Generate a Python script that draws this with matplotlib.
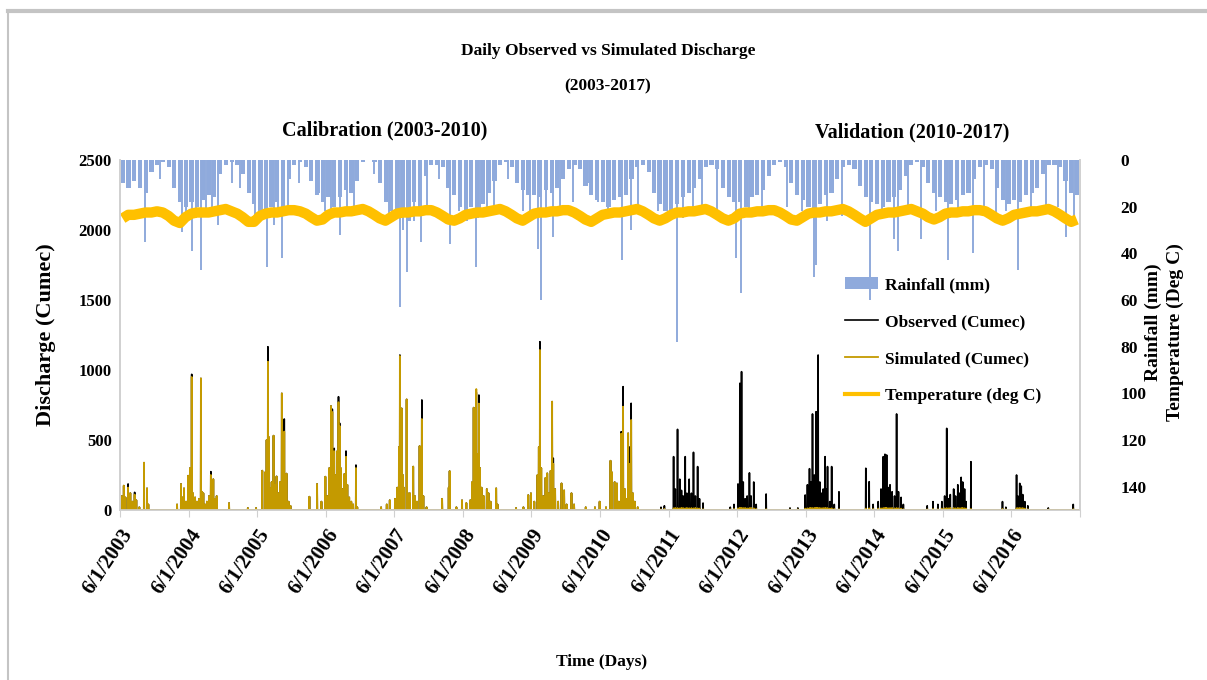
import numpy as np
import pandas as pd
import matplotlib
matplotlib.use('Agg')
import matplotlib.pyplot as plt
from matplotlib.lines import Line2D
from matplotlib.patches import Patch

# daily record, day 0 = 6/1/2003
start = pd.Timestamp('2003-06-01')
days = pd.date_range(start, '2017-05-31', freq='D')

# calibration flows (Cumec): day index, observed, simulated
cal_day = [10, 20, 29, 43, 50, 55, 66, 78, 87, 103, 128, 144, 151,
           304, 325, 333, 341, 352, 363, 373, 382, 389, 400, 410, 421, 431, 437, 444, 453, 463, 474, 484, 490, 497, 506, 515, 581,
           681, 725, 758, 774, 781, 788, 794, 800, 808, 818, 826, 834, 845, 853, 862, 869, 875, 882, 887, 898, 908,
           1009, 1050, 1073, 1094, 1104, 1115, 1124, 1131, 1136, 1141, 1150, 1157, 1164, 1170, 1176, 1184, 1195, 1204, 1211, 1221, 1232, 1242, 1257, 1264,
           1391, 1421, 1437, 1465, 1477, 1486, 1491, 1500, 1507, 1512, 1527, 1534, 1544, 1562, 1571, 1582, 1596, 1608, 1616, 1633,
           1716, 1751, 1756, 1792, 1822, 1845, 1866, 1876, 1884, 1892, 1898, 1905, 1912, 1918, 1926, 1937, 1954, 1963, 1974, 2004, 2011,
           2110, 2149, 2175, 2189, 2207, 2224, 2231, 2237, 2244, 2255, 2267, 2276, 2284, 2294, 2302, 2308, 2318, 2334, 2352, 2366, 2379, 2405, 2419, 2481,
           2530, 2555, 2589, 2613, 2620, 2635, 2647, 2657, 2670, 2680, 2689, 2697, 2707, 2713, 2723, 2732, 2742, 2758]
cal_obs = [100, 174, 90, 186, 110, 121, 60, 126, 70, 20, 338, 155, 40,
           40, 186, 90, 155, 60, 245, 300, 969, 120, 90, 60, 80, 940, 130, 120, 40, 60, 100, 274, 160, 220, 80, 100, 50,
           15, 15, 281, 270, 500, 1166, 520, 155, 200, 531, 180, 240, 120, 200, 833, 300, 650, 150, 260, 60, 30,
           95, 186, 60, 238, 100, 300, 743, 720, 380, 440, 250, 420, 809, 620, 300, 150, 257, 421, 180, 90, 60, 40, 321, 20,
           20, 40, 70, 80, 160, 450, 1107, 726, 250, 160, 790, 120, 120, 310, 100, 60, 457, 786, 100, 20,
           80, 160, 278, 20, 70, 50, 70, 200, 731, 300, 840, 400, 821, 300, 160, 100, 150, 120, 60, 155, 40,
           15, 20, 107, 120, 60, 250, 450, 1202, 300, 100, 230, 262, 120, 280, 774, 370, 150, 60, 190, 140, 40, 120, 40, 20,
           20, 60, 20, 352, 270, 200, 190, 60, 559, 881, 150, 80, 548, 450, 762, 120, 60, 20]
cal_sim = [100, 174, 90, 160, 110, 121, 60, 110, 70, 20, 338, 155, 40,
           40, 186, 90, 155, 60, 245, 300, 950, 120, 90, 60, 80, 940, 130, 120, 40, 60, 100, 250, 160, 220, 80, 100, 50,
           15, 15, 281, 270, 500, 1059, 520, 155, 200, 531, 180, 240, 120, 200, 833, 300, 560, 150, 260, 60, 30,
           95, 186, 60, 238, 100, 300, 743, 700, 380, 420, 250, 420, 770, 600, 300, 150, 257, 380, 180, 90, 60, 40, 300, 20,
           20, 40, 70, 80, 160, 450, 1100, 726, 250, 160, 790, 120, 120, 310, 100, 60, 457, 650, 100, 20,
           80, 160, 278, 20, 70, 50, 70, 200, 731, 300, 864, 400, 760, 300, 160, 100, 150, 120, 60, 155, 40,
           15, 20, 107, 120, 60, 250, 450, 1143, 300, 100, 230, 262, 120, 280, 774, 330, 150, 60, 190, 140, 40, 120, 40, 20,
           20, 60, 20, 352, 270, 200, 190, 60, 545, 738, 150, 80, 548, 330, 643, 120, 60, 20]

# validation flows (Cumec)
val_day = [2882, 2900, 2949, 2958, 2970, 2982, 2991, 3000, 3011, 3020, 3032, 3044, 3055, 3065, 3077, 3087, 3106,
           3251, 3271, 3292, 3302, 3311, 3320, 3330, 3341, 3353, 3362, 3376, 3389, 3442,
           3569, 3611, 3650, 3662, 3673, 3680, 3689, 3699, 3708, 3713, 3719, 3728, 3738, 3746, 3756, 3762, 3769, 3781, 3791, 3805, 3830,
           3973, 3991, 4012, 4039, 4054, 4066, 4075, 4079, 4084, 4093, 4102, 4113, 4126, 4137, 4147, 4161, 4173,
           4300, 4331, 4357, 4378, 4393, 4404, 4414, 4423, 4441, 4451, 4463, 4471, 4481, 4489, 4499, 4507, 4533,
           4701, 4719, 4776, 4783, 4793, 4801, 4809, 4820, 4836, 4945, 5078]
val_obs = [20, 30, 381, 150, 576, 220, 140, 100, 381, 120, 220, 120, 412, 100, 310, 80, 50,
           20, 40, 186, 905, 988, 200, 80, 100, 265, 100, 200, 40, 114,
           15, 15, 107, 180, 295, 200, 686, 250, 702, 500, 1107, 200, 120, 150, 381, 150, 310, 60, 310, 40, 130,
           298, 202, 40, 60, 150, 381, 398, 250, 393, 160, 180, 130, 100, 686, 130, 90, 40,
           30, 60, 40, 60, 100, 583, 80, 110, 150, 100, 180, 120, 233, 200, 150, 60, 345,
           60, 20, 250, 100, 190, 170, 110, 60, 30, 15, 40]
val_sim = [5, 8, 12, 15, 14, 12, 15, 14, 12, 15, 13, 14, 12, 15, 12, 10, 6,
           5, 8, 12, 16, 15, 14, 15, 12, 14, 15, 12, 8, 6,
           4, 5, 10, 12, 14, 15, 14, 15, 16, 15, 14, 15, 12, 14, 15, 12, 14, 10, 12, 8, 6,
           10, 12, 8, 10, 12, 14, 15, 14, 15, 12, 14, 15, 12, 14, 12, 10, 6,
           5, 8, 6, 10, 12, 14, 12, 15, 14, 12, 15, 12, 14, 15, 12, 10, 8,
           8, 5, 12, 14, 15, 12, 14, 10, 6, 4, 6]

# rainfall (mm): monthly depth, Jun..May of each hydrological year 2003-04 .. 2016-17
rain_monthly = [
    [10, 12, 9, 12, 14, 5, 2, 1, 3, 12, 18, 20],
    [18, 20, 17, 15, 16, 6, 2, 1, 2, 6, 14, 19],
    [22, 21, 20, 18, 20, 8, 2, 1, 3, 9, 15, 18],
    [16, 20, 16, 13, 14, 9, 1, 0, 1, 10, 18, 22],
    [25, 24, 26, 18, 20, 7, 2, 2, 3, 12, 15, 20],
    [22, 20, 25, 19, 14, 9, 2, 1, 3, 10, 13, 15],
    [15, 16, 13, 14, 12, 8, 4, 2, 4, 11, 15, 17],
    [18, 20, 17, 16, 15, 8, 3, 2, 5, 14, 19, 22],
    [22, 19, 16, 14, 12, 8, 3, 2, 4, 12, 16, 18],
    [18, 20, 16, 15, 13, 7, 2, 1, 3, 10, 15, 17],
    [20, 22, 19, 15, 14, 8, 3, 2, 4, 11, 16, 18],
    [19, 20, 18, 16, 13, 7, 2, 1, 3, 10, 14, 16],
    [18, 19, 17, 15, 14, 8, 3, 2, 4, 12, 17, 19],
    [17, 18, 15, 14, 12, 6, 2, 2, 3, 9, 14, 15],
]
# heavy single-day falls: day index, mm
storm_day = [131, 214, 329, 352, 382, 405, 431, 458, 490, 522, 596, 638, 718, 755, 785, 820, 840, 864, 893, 956,
             1062, 1094, 1124, 1172, 1210, 1248, 1354, 1433, 1490, 1507, 1530, 1566, 1604, 1634, 1698, 1760, 1804,
             1847, 1898, 1919, 1953, 1990, 2069, 2149, 2186, 2228, 2242, 2270, 2308, 2345, 2414, 2494, 2547, 2599,
             2675, 2722, 2758, 2864, 2928, 2965, 3000, 3050, 3103, 3182, 3284, 3308, 3352, 3421, 3554, 3633, 3696,
             3710, 3765, 3845, 3993, 4057, 4125, 4142, 4200, 4268, 4348, 4410, 4465, 4542, 4602, 4666, 4719, 4785,
             4852, 4931, 4995, 5038, 5080]
storm_mm = [35, 8, 31, 24, 39, 25, 47, 22, 22, 28, 10, 12, 25, 24, 46, 28, 22, 42, 20, 10,
            14, 22, 25, 32, 22, 24, 6, 25, 63, 30, 48, 26, 35, 22, 8, 36, 22,
            26, 46, 22, 24, 20, 8, 22, 26, 38, 60, 24, 33, 22, 18, 10, 18, 22,
            43, 30, 20, 22, 26, 78, 25, 20, 22, 24, 42, 57, 22, 24, 20, 22, 50,
            45, 26, 24, 60, 24, 34, 39, 22, 34, 22, 43, 24, 40, 22, 26, 22, 47,
            24, 22, 20, 33, 24]

# mean temperature (deg C), Jun..May of each hydrological year
temp_monthly = [
    [25.0, 23.5, 23.5, 23.0, 22.5, 22.5, 22.0, 22.5, 24.0, 26.0, 27.0, 24.5],
    [23.0, 22.5, 22.5, 22.5, 22.0, 21.5, 21.0, 22.0, 23.0, 24.5, 26.5, 26.5],
    [24.0, 23.0, 22.5, 22.5, 22.0, 21.5, 21.5, 22.0, 23.0, 24.5, 26.0, 25.5],
    [23.5, 22.5, 22.5, 22.0, 22.0, 21.5, 21.0, 22.0, 23.5, 25.0, 26.0, 24.5],
    [23.0, 22.5, 22.5, 22.0, 22.0, 21.5, 21.5, 22.5, 24.0, 25.5, 26.0, 25.0],
    [23.5, 23.0, 22.5, 22.5, 22.0, 21.5, 21.0, 22.0, 23.5, 25.0, 26.0, 24.5],
    [23.0, 22.5, 22.5, 22.0, 22.0, 21.5, 21.5, 22.5, 24.0, 25.5, 26.5, 25.0],
    [23.5, 23.0, 22.5, 22.5, 22.0, 21.5, 21.0, 22.0, 23.5, 25.0, 26.0, 25.0],
    [23.5, 22.5, 22.5, 22.0, 22.0, 21.5, 21.0, 22.0, 23.5, 25.0, 26.0, 25.0],
    [23.0, 22.5, 22.5, 22.0, 22.0, 21.5, 21.5, 22.5, 24.0, 25.5, 26.0, 24.5],
    [23.0, 22.5, 22.5, 22.0, 22.0, 21.5, 21.0, 22.0, 23.5, 25.0, 26.5, 25.0],
    [23.5, 23.0, 22.5, 22.5, 22.0, 21.5, 21.0, 22.0, 23.0, 24.5, 25.5, 24.5],
    [23.0, 22.5, 22.5, 22.0, 22.0, 21.5, 21.5, 22.0, 23.5, 25.0, 26.0, 25.0],
    [23.5, 23.0, 22.5, 22.0, 22.0, 21.5, 21.0, 22.0, 23.5, 25.0, 26.5, 25.5],
]

tick_years = list(range(2003, 2018))

# build the daily series
observed = np.zeros(len(days))
simulated = np.zeros(len(days))
observed[cal_day] = cal_obs
simulated[cal_day] = cal_sim
observed[val_day] = val_obs
simulated[val_day] = val_sim

months = pd.date_range(start, periods=len(rain_monthly) * 12, freq='MS')
rain = np.array(rain_monthly).ravel()
temp = np.array(temp_monthly).ravel()

serif = 'Liberation Serif'
plt.rcParams['font.family'] = [serif, 'DejaVu Serif']
plt.rcParams['font.weight'] = 'bold'

fig = plt.figure(figsize=(12.07, 6.8), dpi=100)
ax = fig.add_axes([120 / 1207, 1 - 510 / 680, 960 / 1207, 350 / 680])
ax2 = ax.twinx()

rain_c = '#8FAADC'
sim_c = '#C49A00'
temp_c = '#FFC000'

# rainfall hangs from the top of the reversed secondary axis
ax2.bar(months + pd.Timedelta(days=4), rain, width=22, align='edge', color=rain_c, linewidth=0)
ax2.vlines(days[storm_day], 0, storm_mm, color=rain_c, lw=1.4)
ax2.plot(months + pd.Timedelta(days=14), temp, color=temp_c, lw=7.5, solid_capstyle='butt')
ax2.set_ylim(150, 0)
ax2.set_yticks(range(0, 141, 20))

ax.plot(days, observed, color='black', lw=1.2)
ax.plot(days, simulated, color=sim_c, lw=1.3)
ax.set_ylim(0, 2500)
ax.set_yticks(range(0, 2501, 500))
ax.set_xlim(start, pd.Timestamp('2017-06-01'))

ticks = [pd.Timestamp(f'{y}-06-01') for y in tick_years]
ax.set_xticks(ticks)
ax.set_xticklabels([f'6/1/{y}' for y in tick_years[:-1]] + [''],
                   rotation=56, ha='right', va='top', rotation_mode='anchor',
                   fontsize=15, fontweight='bold')

ax.set_zorder(ax2.get_zorder() + 1)
ax.patch.set_visible(False)

for a in (ax, ax2):
    for s in a.spines.values():
        s.set_color('#D0D0D0')
        s.set_linewidth(1.2)
    a.spines['top'].set_visible(False)

ax.tick_params(axis='x', length=5, color='#D0D0D0', pad=6)
ax.tick_params(axis='y', length=0, pad=6, labelsize=12)
ax2.tick_params(axis='y', length=0, pad=29, labelsize=12.5)
for lab in ax.get_yticklabels() + ax2.get_yticklabels():
    lab.set_fontweight('bold')

ax.set_ylabel('Discharge (Cumec)', fontsize=16, fontweight='bold')
ax.yaxis.set_label_coords(-0.067, 0.5)
fig.text(1153 / 1207, 1 - 322 / 680, 'Rainfall (mm)', rotation=90, ha='center', va='center',
         fontsize=14, fontweight='bold')
fig.text(1175 / 1207, 1 - 332 / 680, 'Temperature (Deg C)', rotation=90, ha='center', va='center',
         fontsize=14, fontweight='bold')

fig.text(608 / 1207, 1 - 51 / 680, 'Daily Observed vs Simulated Discharge', ha='center', va='center',
         fontsize=12.5, fontweight='bold')
fig.text(608 / 1207, 1 - 86 / 680, '(2003-2017)', ha='center', va='center', fontsize=12.5, fontweight='bold')
fig.text(385 / 1207, 1 - 130 / 680, 'Calibration (2003-2010)', ha='center', va='center',
         fontsize=14.5, fontweight='bold')
fig.text(912 / 1207, 1 - 132 / 680, 'Validation (2010-2017)', ha='center', va='center',
         fontsize=14.5, fontweight='bold')
fig.text(602 / 1207, 1 - 662 / 680, 'Time (Days)', ha='center', va='center', fontsize=12.5, fontweight='bold')

handles = [Patch(facecolor=rain_c, edgecolor='none'),
           Line2D([], [], color='black', lw=1.2),
           Line2D([], [], color=sim_c, lw=1.3),
           Line2D([], [], color=temp_c, lw=3)]
labels = ['Rainfall (mm)', 'Observed (Cumec)', 'Simulated (Cumec)', 'Temperature (deg C)']
fig.legend(handles, labels, loc='upper left', bbox_to_anchor=(845 / 1207, 1 - 277 / 680),
           frameon=False, prop={'family': serif, 'weight': 'bold', 'size': 12.5},
           handlelength=1.9, handletextpad=0.4, labelspacing=1.2, borderpad=0, borderaxespad=0)

# grey frame along the top and left edges
fig.add_artist(Line2D([8 / 1207, 1], [1 - 11 / 680] * 2, transform=fig.transFigure, color='#C4C4C4', lw=3))
fig.add_artist(Line2D([8 / 1207] * 2, [0, 1 - 11 / 680], transform=fig.transFigure, color='#C4C4C4', lw=1.5))

fig.savefig('out.png', dpi=100)
